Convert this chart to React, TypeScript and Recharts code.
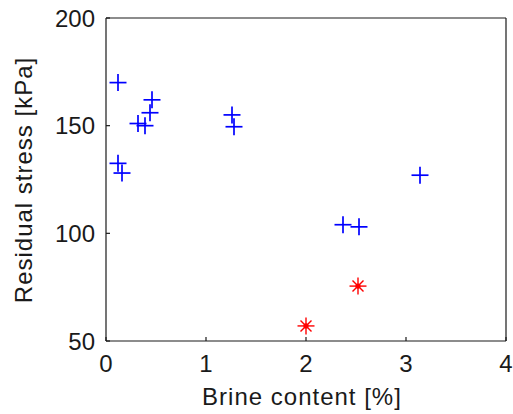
import React from 'react';
import { ScatterChart, Scatter, XAxis, YAxis } from 'recharts';

const blueX = [0.12, 0.46, 0.44, 0.32, 0.39, 0.12, 0.16, 1.26, 1.28, 2.37, 2.53, 3.14];
const blueY = [170, 162, 156, 151, 150, 132.5, 128, 155, 149.5, 104, 103, 127];
const redX = [2.0, 2.52];
const redY = [57, 75.5];
const xTicks = [0, 1, 2, 3, 4];
const yTicks = [50, 100, 150, 200];

const blueData = blueX.map((x, i) => ({ x, y: blueY[i] }));
const redData = redX.map((x, i) => ({ x, y: redY[i] }));

const FONT = '"Liberation Sans", Arial, sans-serif';
const AX = '#1a1a1a';

const Plus = (props: any) => {
  const { cx, cy } = props;
  const h = 8.5;
  return (
    <g stroke="#0000ff" strokeWidth={1.7}>
      <line x1={cx - h} y1={cy} x2={cx + h} y2={cy} />
      <line x1={cx} y1={cy - h} x2={cx} y2={cy + h} />
    </g>
  );
};

const Star = (props: any) => {
  const { cx, cy } = props;
  const h = 8.5;
  const d = 5.5;
  return (
    <g stroke="#ff0000" strokeWidth={1.4}>
      <line x1={cx - h} y1={cy} x2={cx + h} y2={cy} />
      <line x1={cx} y1={cy - h} x2={cx} y2={cy + h} />
      <line x1={cx - d} y1={cy - d} x2={cx + d} y2={cy + d} />
      <line x1={cx - d} y1={cy + d} x2={cx + d} y2={cy - d} />
      <circle cx={cx} cy={cy} r={2.6} fill="#ff0000" stroke="none" />
    </g>
  );
};

const tickStyle = { fill: AX, fontSize: 24, fontFamily: FONT };

export default function App() {
  return (
    <div style={{ position: 'absolute', left: 0, top: 0, background: '#fff' }}>
      <ScatterChart width={513} height={414} margin={{ top: 17, right: 6, bottom: 0, left: 0 }}>
        <XAxis
          dataKey="x"
          type="number"
          domain={[0, 4]}
          ticks={xTicks}
          allowDataOverflow
          height={73}
          tickSize={-4}
          tickMargin={18}
          tick={tickStyle}
          axisLine={{ stroke: AX, strokeWidth: 1.2 }}
          tickLine={{ stroke: AX, strokeWidth: 1.2 }}
          label={{
            content: () => (
              <text x={302} y={405} textAnchor="middle" fill={AX} fontSize={24} fontFamily={FONT} letterSpacing={1}>
                Brine content [%]
              </text>
            ),
          }}
        />
        <XAxis
          xAxisId="top"
          orientation="top"
          type="number"
          domain={[0, 4]}
          ticks={xTicks}
          allowDataOverflow
          height={1}
          tickSize={-4}
          tick={false}
          axisLine={{ stroke: AX, strokeWidth: 1.2 }}
          tickLine={{ stroke: AX, strokeWidth: 1.2 }}
        />
        <YAxis
          dataKey="y"
          type="number"
          domain={[50, 200]}
          ticks={yTicks}
          allowDataOverflow
          width={106}
          tickSize={-4}
          tickMargin={15}
          tick={tickStyle}
          axisLine={{ stroke: AX, strokeWidth: 1.2 }}
          tickLine={{ stroke: AX, strokeWidth: 1.2 }}
          label={{
            content: () => (
              <text
                x={32}
                y={180}
                transform="rotate(-90 32 180)"
                textAnchor="middle"
                fill={AX}
                fontSize={24}
                fontFamily={FONT}
                letterSpacing={1}
              >
                Residual stress [kPa]
              </text>
            ),
          }}
        />
        <YAxis
          yAxisId="right"
          orientation="right"
          type="number"
          domain={[50, 200]}
          ticks={yTicks}
          allowDataOverflow
          width={1}
          tickSize={-4}
          tick={false}
          axisLine={{ stroke: AX, strokeWidth: 1.2 }}
          tickLine={{ stroke: AX, strokeWidth: 1.2 }}
        />
        <Scatter data={blueData} shape={<Plus />} isAnimationActive={false} />
        <Scatter data={redData} shape={<Star />} isAnimationActive={false} />
      </ScatterChart>
    </div>
  );
}
